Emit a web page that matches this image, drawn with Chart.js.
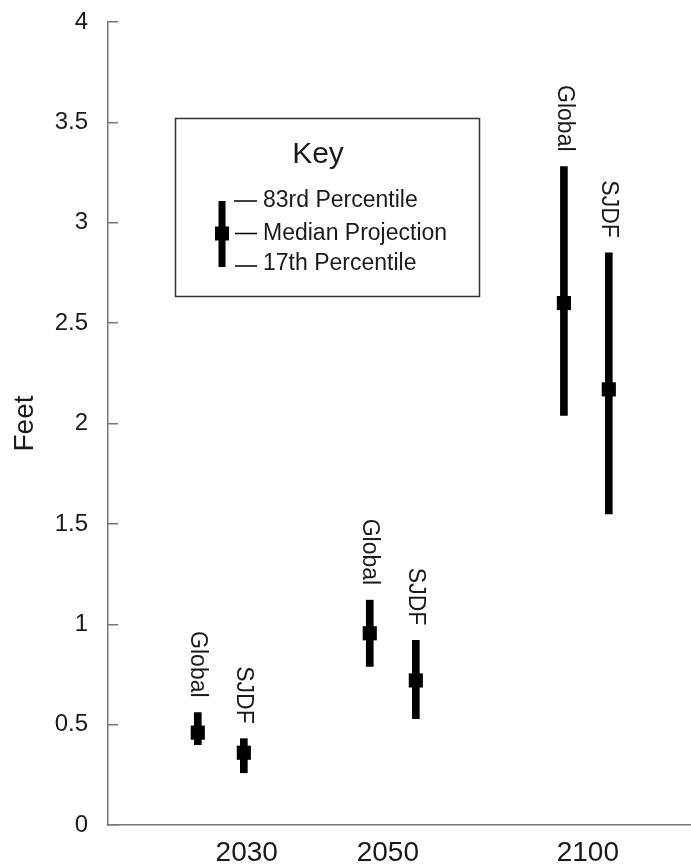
<!DOCTYPE html>
<html>
<head>
<meta charset="utf-8">
<title>Sea level rise projections</title>
<script src="https://cdn.jsdelivr.net/npm/chart.js@4.4.1/dist/chart.umd.min.js"></script>
<style>
  body { margin: 0; background: #fff; }
  #wrap { width: 691px; height: 865px; }
</style>
</head>
<body>
<div id="wrap"><canvas id="myChart" width="691" height="865"></canvas></div>
<script>
// years shown on the x axis
var years = ['2030', '2050', '2100'];
var yearTickX = [23.8, 48, 82.3];

// position of each bar on the (0-100) x scale
var globalX = [15.4, 44.9, 78.2];
var sjdfX = [23.3, 52.8, 85.9];

// Global projection (feet)
var globalLow = [0.40, 0.79, 2.04];
var globalMed = [0.46, 0.955, 2.60];
var globalHigh = [0.56, 1.12, 3.28];

// SJDF projection (feet)
var sjdfLow = [0.26, 0.53, 1.55];
var sjdfMed = [0.36, 0.72, 2.17];
var sjdfHigh = [0.43, 0.92, 2.85];

var yTicks = [0, 0.5, 1, 1.5, 2, 2.5, 3, 3.5, 4];

var FONT = "'Liberation Sans', Arial, Helvetica, sans-serif";
var INK = '#1a1a1a';
var AXIS = '#777';

function rangePoints(xs, lo, hi) {
  var out = [];
  for (var i = 0; i < xs.length; i++) {
    out.push({x: xs[i], y: [lo[i], hi[i]]});
  }
  return out;
}

function medPoints(xs, med) {
  var out = [];
  for (var i = 0; i < xs.length; i++) {
    out.push({x: xs[i], y: med[i]});
  }
  return out;
}

// writes "Global" / "SJDF" above each range bar, rotated
var barLabels = {
  id: 'barLabels',
  afterDatasetsDraw: function (chart) {
    var ctx = chart.ctx;
    chart.data.datasets.forEach(function (ds, di) {
      if (!ds.tag) return;
      var meta = chart.getDatasetMeta(di);
      meta.data.forEach(function (bar) {
        ctx.save();
        ctx.translate(bar.x, bar.y - 15);
        ctx.rotate(Math.PI / 2);
        ctx.font = '23px ' + FONT;
        ctx.fillStyle = INK;
        ctx.textAlign = 'right';
        ctx.textBaseline = 'middle';
        ctx.fillText(ds.tag, 0, 0);
        ctx.restore();
      });
    });
  }
};

// the boxed "Key" in the upper left
var keyBox = {
  id: 'keyBox',
  afterDraw: function (chart) {
    var ctx = chart.ctx;
    ctx.save();
    ctx.strokeStyle = '#333';
    ctx.lineWidth = 1.5;
    ctx.strokeRect(175.5, 118.5, 304, 178);

    ctx.fillStyle = INK;
    ctx.font = '30px ' + FONT;
    ctx.textAlign = 'center';
    ctx.textBaseline = 'middle';
    ctx.fillText('Key', 318, 155);

    // sample bar
    ctx.fillStyle = '#000';
    ctx.fillRect(218.5, 201, 7, 66);
    ctx.fillRect(215, 226.5, 14, 14);

    // leader lines
    ctx.strokeStyle = '#000';
    ctx.lineWidth = 1.5;
    ctx.beginPath();
    ctx.moveTo(234, 201); ctx.lineTo(257, 201);
    ctx.moveTo(235, 233.5); ctx.lineTo(257, 233.5);
    ctx.moveTo(235, 266); ctx.lineTo(257, 266);
    ctx.stroke();

    ctx.fillStyle = INK;
    ctx.font = '23px ' + FONT;
    ctx.textAlign = 'left';
    ctx.fillText('83rd Percentile', 263, 201);
    ctx.fillText('Median Projection', 263, 234);
    ctx.fillText('17th Percentile', 263, 264);
    ctx.restore();
  }
};

function getChart() {
  var ctx = document.getElementById('myChart').getContext('2d');
  var chart = new Chart(ctx, {
    type: 'bar',
    data: {
      datasets: [
        {
          tag: 'Global',
          data: rangePoints(globalX, globalLow, globalHigh),
          backgroundColor: '#000',
          barThickness: 7,
          grouped: false,
          borderWidth: 0
        },
        {
          tag: 'SJDF',
          data: rangePoints(sjdfX, sjdfLow, sjdfHigh),
          backgroundColor: '#000',
          barThickness: 7,
          grouped: false,
          borderWidth: 0
        },
        {
          type: 'scatter',
          data: medPoints(globalX, globalMed),
          pointStyle: 'rect',
          pointRadius: 10,
          backgroundColor: '#000',
          borderWidth: 0
        },
        {
          type: 'scatter',
          data: medPoints(sjdfX, sjdfMed),
          pointStyle: 'rect',
          pointRadius: 10,
          backgroundColor: '#000',
          borderWidth: 0
        }
      ]
    },
    options: {
      responsive: false,
      animation: false,
      layout: { padding: 0, autoPadding: false },
      plugins: {
        legend: { display: false },
        tooltip: { enabled: false }
      },
      scales: {
        x: {
          type: 'linear',
          offset: false,
          min: 0,
          max: 100,
          afterBuildTicks: function (scale) {
            scale.ticks = yearTickX.map(function (v) { return {value: v}; });
          },
          afterFit: function (scale) { scale.height = 40; },
          ticks: {
            autoSkip: false,
            maxRotation: 0,
            padding: 11,
            color: INK,
            font: { family: FONT, size: 28 },
            callback: function (v, i) { return years[i]; }
          },
          grid: { display: false, drawTicks: false, offset: false },
          border: { display: true, color: AXIS, width: 1.5 }
        },
        y: {
          min: 0,
          max: 4,
          afterBuildTicks: function (scale) {
            scale.ticks = yTicks.map(function (v) { return {value: v}; });
          },
          afterFit: function (scale) {
            scale.width = 108;
            scale.paddingTop = 22;
            scale.paddingBottom = 0;
          },
          ticks: {
            padding: 30,
            color: INK,
            font: { family: FONT, size: 24 },
            callback: function (v) { return String(v); }
          },
          grid: {
            drawOnChartArea: false,
            drawTicks: true,
            tickLength: -10,
            color: AXIS,
            lineWidth: 1.5
          },
          border: { display: true, color: AXIS, width: 1.5 },
          title: {
            display: true,
            text: 'Feet',
            color: INK,
            font: { family: FONT, size: 28 },
            padding: { top: 8, bottom: 0 }
          }
        }
      }
    },
    plugins: [barLabels, keyBox]
  });
  console.log(chart.chartArea);
}

getChart();
</script>
</body>
</html>
